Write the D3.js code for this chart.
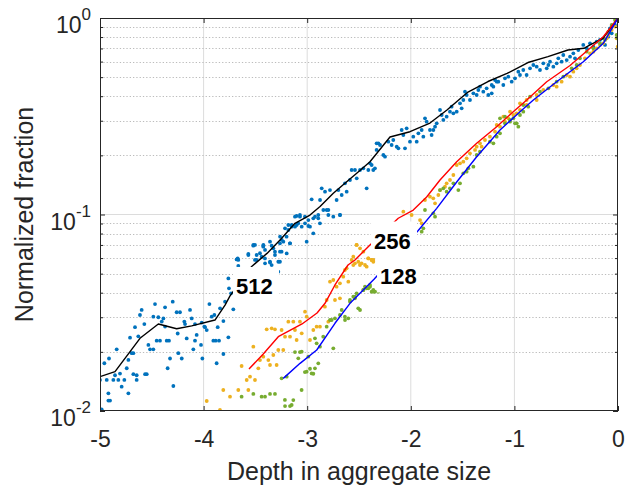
<!DOCTYPE html>
<html><head><meta charset="utf-8">
<script src="https://cdn.jsdelivr.net/npm/d3@7"></script>
<style>body{margin:0;background:#fff;} svg{display:block;font-family:"Liberation Sans",Arial,Helvetica,sans-serif;}</style>
</head><body><svg id="chart" width="640" height="487"></svg>
<script>
// ---------------- data ----------------
const xTicks = [-5, -4, -3, -2, -1, 0];
const xTickLabels = ["-5", "-4", "-3", "-2", "-1", "0"];
const yMajorTicks = [0.01, 0.1, 1];
const yTickExponents = ["-2", "-1", "0"];
const xTitle = "Depth in aggregate size";
const yTitle = "Normalized fraction";

const scatter512 = [
[-5.00,0.0144],[-4.958,0.0175],[-4.913,0.0185],[-4.839,0.0206],[-4.710,0.0236],[-4.614,0.0308],[-4.598,0.0327],[-4.572,0.0277],
[-4.485,0.0302],[-4.469,0.0350],[-4.437,0.0300],[-4.404,0.0285],[-4.388,0.0296],[-4.372,0.0337],[-4.298,0.0360],[-4.260,0.0318],
[-4.228,0.0318],[-4.131,0.0327],[-4.186,0.0285],[-4.179,0.0277],[-4.115,0.0296],[-4.083,0.0277],[-4.018,0.0282],[-3.986,0.0267],
[-3.944,0.0350],[-3.922,0.0302],[-3.896,0.0308],[-3.864,0.0267],[-3.841,0.0333],[-3.809,0.0287],[-3.793,0.0360],[-3.761,0.0473],
[-3.755,0.0421],[-3.735,0.0397],[-3.713,0.0329],[-4.935,0.0144],[-4.919,0.0123],[-4.919,0.0113],[-4.903,0.0113],[-4.984,0.0102],
[-4.871,0.0144],[-4.855,0.0152],[-4.823,0.0144],[-4.807,0.0155],[-4.791,0.0133],[-4.765,0.0144],[-4.742,0.0165],[-4.726,0.0123],
[-4.694,0.0197],[-4.678,0.0197],[-4.646,0.0152],[-4.646,0.0144],[-4.565,0.0154],[-4.549,0.0154],[-4.533,0.0217],[-4.517,0.0206],
[-4.485,0.0206],[-4.453,0.0228],[-4.421,0.0228],[-4.356,0.0228],[-4.334,0.0228],[-4.347,0.0165],[-4.324,0.0185],[-4.292,0.0134],
[-4.250,0.0248],[-4.244,0.0197],[-4.211,0.0185],[-4.163,0.0234],[-4.099,0.0206],[-4.083,0.0228],[-4.067,0.0244],[-4.025,0.0217],
[-4.012,0.0185],[-3.993,0.0269],[-3.970,0.0258],[-3.906,0.0228],[-3.883,0.0228],[-3.874,0.0175],[-3.851,0.0228],[-3.809,0.0195],
[-3.761,0.0237],[-4.662,0.0267],[-4.630,0.0240],[-4.726,0.0182],[-4.678,0.0154],[-4.372,0.0269],
[-3.671,0.0598],[-3.665,0.0547],[-3.568,0.0630],[-3.520,0.0700],[-3.488,0.0587],[-3.423,0.0700],[-3.407,0.0660],[-3.359,0.0569],
[-3.343,0.0553],[-3.327,0.0673],[-3.311,0.0622],[-3.279,0.0512],[-3.263,0.0647],[-3.263,0.0575],[-3.198,0.0634],[-3.230,0.0727],
[-3.005,0.0727],[-3.102,0.0983],[-3.070,0.0994],[-3.022,0.0975],[-2.989,0.0937],[-2.941,0.0956],[-2.893,0.0994],[-2.877,0.0902],
[-2.812,0.1054],[-2.796,0.0994],[-2.684,0.0994],[-3.150,0.0884],[-3.118,0.0867],[-3.086,0.0902],[-3.182,0.0834],[-3.199,0.0771],
[-3.166,0.0713],[-3.263,0.0713],[-3.247,0.0647],[-3.359,0.0727],[-3.424,0.0686],[-3.504,0.0700],[-3.488,0.0622],[-3.456,0.0635],
[-3.408,0.0598],[-3.359,0.0575],[-3.279,0.0575],[-3.665,0.0587],
[-3.681,0.0591],[-3.568,0.0622],[-3.520,0.0694],[-3.504,0.0587],[-3.440,0.0610],[-3.423,0.0694],[-3.407,0.0564],[-3.343,0.0694],
[-3.311,0.0647],[-3.262,0.0771],[-3.246,0.0742],[-3.214,0.0850],[-3.182,0.0884],[-3.166,0.0713],[-3.150,0.0867],[-3.118,0.0975],
[-3.102,0.0884],[-3.070,0.0975],[-3.053,0.0867],[-3.021,0.0902],[-2.989,0.0874],[-2.973,0.0867],[-2.941,0.0802],[-2.925,0.0975],
[-2.893,0.0956],[-2.957,0.1195],[-2.876,0.1185],[-2.860,0.1359],[-2.844,0.1054],[-2.828,0.1307],[-2.796,0.1054],[-2.780,0.1332],
[-2.748,0.0975],[-2.716,0.1185],[-2.699,0.1332],[-2.683,0.0994],[-2.667,0.1257],[-2.635,0.1441],[-2.619,0.1307],[-2.587,0.1498],
[-2.571,0.1684],[-2.539,0.1684],[-2.522,0.1528],[-2.490,0.1684],[-2.458,0.1718],[-2.426,0.1359],[-2.410,0.1684],[-2.378,0.1786],
[-2.362,0.1684],[-2.346,0.1718],[-2.330,0.2130],[-2.313,0.2303],
[-2.394,0.1822],[-2.330,0.2303],[-2.297,0.2258],[-2.265,0.2008],[-2.249,0.1969],[-2.217,0.2348],[-2.185,0.2258],[-2.169,0.2394],
[-2.136,0.2214],[-2.120,0.2171],[-2.088,0.2692],[-2.072,0.2539],[-2.056,0.2171],[-2.040,0.2745],[-2.008,0.2348],[-1.976,0.2489],
[-1.943,0.2348],[-1.927,0.2588],[-1.895,0.2692],[-1.879,0.2489],[-1.863,0.3085],[-1.847,0.2969],[-1.815,0.2692],[-1.799,0.2539],
[-1.782,0.2692],[-1.766,0.2799],[-1.750,0.2910],[-1.718,0.3402],[-1.702,0.3209],[-1.686,0.3028],[-1.654,0.3147],[-1.622,0.3336],
[-1.606,0.3537],[-1.589,0.3271],[-1.557,0.3336],[-1.525,0.3678],[-1.509,0.3470],[-1.493,0.3825],[-1.477,0.4218],[-1.461,0.4057],
[-1.429,0.3825],[-1.396,0.4136],[-1.364,0.4057],[-1.348,0.4300],[-1.332,0.4472],[-1.300,0.4218],[-1.268,0.4385],[-1.252,0.4057],
[-1.219,0.4560],[-1.203,0.4472],[-1.171,0.4742],
[-1.219,0.4136],[-1.187,0.4836],[-1.155,0.4742],[-1.107,0.4560],[-1.091,0.4932],[-1.059,0.5028],[-1.026,0.4742],[-0.994,0.4932],
[-0.962,0.5332],[-0.946,0.5128],[-0.914,0.5437],[-0.882,0.5128],[-0.849,0.5544],[-0.817,0.5765],[-0.785,0.5654],[-0.753,0.5437],
[-0.721,0.5879],[-0.688,0.5544],[-0.672,0.5765],[-0.656,0.5995],[-0.624,0.5654],[-0.592,0.5879],[-0.576,0.6233],[-0.544,0.5995],
[-0.528,0.6482],[-0.495,0.6111],[-0.463,0.6357],[-0.431,0.6610],[-0.415,0.6233],[-0.383,0.6873],[-0.335,0.7291],[-0.302,0.7010],
[-0.270,0.7434],[-0.238,0.7148],[-0.206,0.7580],[-0.174,0.7730],[-0.142,0.7883],[-0.125,0.7291],[-0.093,0.8035],[-0.077,0.8857],
[-0.061,0.8355],[-0.029,0.9213]
];

const scatter256 = [
[-3.970,0.01124],[-3.842,0.01012],[-3.810,0.01279],[-3.745,0.01183],[-3.665,0.01279],[-3.633,0.01694],[-3.584,0.01438],[-3.568,0.01279],
[-3.552,0.01495],[-3.520,0.02126],[-3.504,0.01438],[-3.472,0.01649],[-3.456,0.01817],[-3.424,0.01890],[-3.391,0.02603],[-3.375,0.01817],
[-3.359,0.01714],[-3.343,0.02634],[-3.327,0.01928],[-3.311,0.02603],[-3.295,0.01714],[-3.279,0.02044],[-3.247,0.02583],[-3.231,0.02044],
[-3.214,0.02389],[-3.182,0.02849],[-3.166,0.02389],[-3.134,0.02849],[-3.118,0.02583],[-3.102,0.02298],[-3.070,0.02849],[-3.053,0.02484],
[-3.021,0.03201],[-3.005,0.03020],[-2.973,0.02298],[-2.941,0.02583],[-2.909,0.02686],
[-2.877,0.02686],[-2.829,0.03396],[-2.812,0.03671],[-2.796,0.02849],[-2.780,0.04552],[-2.748,0.04642],[-2.732,0.03671],[-2.716,0.04293],
[-2.684,0.04464],[-2.684,0.03744],[-2.652,0.04826],[-2.636,0.05220],[-2.619,0.05321],[-2.603,0.04552],[-2.571,0.05868],[-2.555,0.06101],
[-2.539,0.05643],[-2.523,0.06997],[-2.491,0.05534],[-2.475,0.05643],[-2.442,0.05534],[-2.426,0.05428],[-2.410,0.05981],[-2.378,0.05868],
[-2.362,0.05868],[-2.523,0.0700],[-2.490,0.0673],[-2.458,0.0647],[-2.410,0.0598],[-2.378,0.0587],[-2.362,0.0575],[-2.555,0.0553],[-2.507,0.0575],
[-2.072,0.1034],[-1.992,0.0994],[-1.911,0.0937],[-1.895,0.0902],[-1.863,0.1185],[-1.815,0.1232],[-1.783,0.1209],[-1.766,0.1140],
[-1.734,0.1257],[-1.718,0.1332],[-1.670,0.1385],[-1.654,0.1441],[-1.622,0.1498],[-1.589,0.1589],[-1.557,0.1786],[-1.525,0.1822],
[-1.493,0.1857],[-1.461,0.1931],[-1.429,0.2048],[-1.380,0.2130],[-1.364,0.2214],[-1.332,0.2303],[-1.316,0.2214],[-1.284,0.2394],
[-1.236,0.2489],[-1.187,0.2639],[-1.139,0.2799],[-1.091,0.2969],[-1.059,0.3085],[-1.010,0.3208],[-0.978,0.3271],[-0.946,0.3402],
[-0.882,0.3608],[-0.785,0.3825],
[-1.171,0.2854],[-1.107,0.3147],[-1.042,0.3336],[-0.946,0.3678],[-0.882,0.3825],[-0.785,0.4057],[-0.721,0.4300],[-0.624,0.4560],
[-0.592,0.4472],[-0.544,0.4742],[-0.495,0.5129],[-0.463,0.5028],[-0.431,0.5332],[-0.399,0.5545],[-0.367,0.5765],[-0.319,0.6233],
[-0.270,0.6610],[-0.238,0.6741],[-0.206,0.7010],[-0.174,0.7291],[-0.142,0.7434],[-0.109,0.7882],[-0.093,0.8194],[-0.061,0.8689],
[-0.029,0.9035],[-0.003,0.7148],[-0.013,0.7882]
];

const scatter128 = [
[-3.633,0.01183],[-3.520,0.01221],[-3.440,0.01183],[-3.407,0.01183],[-3.359,0.01221],[-3.311,0.01221],[-3.247,0.01466],[-3.214,0.01060],
[-3.198,0.01495],[-3.166,0.01060],[-3.134,0.01137],[-3.086,0.01853],[-3.053,0.02004],[-3.005,0.01585],[-2.957,0.01554],[-2.925,0.01649],
[-2.893,0.01748],[-3.118,0.01995],[-3.070,0.01995],[-3.022,0.01578],[-2.973,0.01641],[-2.941,0.01547],[-2.989,0.01890],[-2.909,0.02210],
[-2.925,0.02343],[-3.054,0.01279],[-3.150,0.01073],[-3.215,0.01138],
[-2.877,0.02126],[-2.845,0.02389],[-2.812,0.02686],[-2.780,0.02904],[-2.732,0.02961],[-2.684,0.03080],[-2.636,0.03020],[-2.603,0.02961],
[-2.587,0.03600],[-2.555,0.03818],[-2.523,0.03970],[-2.507,0.03331],[-2.458,0.04128],[-2.426,0.04210],[-2.394,0.04378],[-2.362,0.04048],
[-2.764,0.02904],[-2.748,0.02084],[-2.667,0.03266],[-2.635,0.02904],[-2.587,0.03671],[-2.539,0.03744],[-2.490,0.03266],[-2.458,0.04128],
[-2.394,0.04293],[-2.346,0.04048],[-2.313,0.04048],
[-2.442,0.0429],[-2.410,0.0421],[-2.378,0.0405],[-2.362,0.0413],[-2.539,0.0382],
[-1.895,0.0818],[-1.879,0.0850],[-1.863,0.1054],[-1.783,0.1014],[-1.766,0.0975],[-1.718,0.1332],[-1.686,0.1359],[-1.654,0.1307],
[-1.622,0.1359],[-1.589,0.1441],[-1.541,0.1332],[-1.525,0.1441],[-1.493,0.1620],[-1.461,0.1652],[-1.445,0.1718],[-1.396,0.1751],
[-1.364,0.2008],[-1.332,0.2088],[-1.236,0.2348],[-1.203,0.2303],[-1.171,0.2489],[-1.139,0.2588],[-1.091,0.2911],[-1.043,0.3028],
[-1.010,0.3085],[-0.978,0.2911],[-0.962,0.2799],[-0.946,0.3208],[-0.914,0.3336],[-0.866,0.3537],
[-1.139,0.3085],[-1.091,0.3147],[-1.042,0.2969],[-0.994,0.2911],[-0.914,0.3608],[-0.849,0.3978],[-0.753,0.4218],[-0.672,0.4386],
[-0.592,0.4742],[-0.528,0.5028],[-0.447,0.5545],[-0.399,0.5765],[-0.367,0.6233],[-0.302,0.6741],[-0.238,0.7010],[-0.174,0.7434],
[-0.125,0.7730],[-0.093,0.8520],[-0.061,0.9213],[-0.029,0.9768],[-0.013,0.8194],[-0.003,0.7882]
];

const line512 = [
[-5,0.01496],[-4.855,0.01585],[-4.614,0.02344],[-4.437,0.02773],[-4.260,0.02622],[-4.115,0.0271],[-3.890,0.02904],[-3.793,0.0346],
[-3.745,0.0385],[-3.536,0.0544],[-3.388,0.0634],[-3.253,0.0750],[-3.118,0.0902],[-2.973,0.0994],[-2.876,0.1098],[-2.748,0.1282],
[-2.619,0.1469],[-2.522,0.1621],[-2.394,0.1856],[-2.201,0.2479],[-2.008,0.2638],[-1.815,0.2921],[-1.651,0.3402],[-1.448,0.4201],
[-1.255,0.4751],[-1.071,0.5220],[-0.869,0.5935],[-0.676,0.6355],[-0.483,0.6873],[-0.328,0.7011],[-0.270,0.7290],[-0.145,0.7883],[0,1.0]
];
const line256 = [
[-3.562,0.01636],[-3.424,0.01950],[-3.279,0.02388],[-3.050,0.02772],[-2.905,0.03152],[-2.828,0.03532],[-2.732,0.04378],[-2.606,0.05534],
[-2.539,0.05867],[-2.394,0.06995],[-2.121,0.0957],[-1.976,0.1054],[-1.847,0.1228],[-1.718,0.1498],[-1.557,0.1856],[-1.364,0.2303],
[-1.171,0.2798],[-1.011,0.3335],[-0.881,0.3825],[-0.688,0.4740],[-0.463,0.5731],[-0.270,0.7011],[-0.142,0.8032],[0,1.0]
];
const line128 = [
[-3.231,0.01466],[-3.069,0.01748],[-2.908,0.02044],[-2.732,0.02795],[-2.587,0.03532],[-2.355,0.04680],[-1.928,0.0829],[-1.750,0.1075],
[-1.557,0.1463],[-1.364,0.1968],[-1.139,0.2692],[-0.946,0.3335],[-0.817,0.3825],[-0.592,0.4740],[-0.335,0.5992],[-0.142,0.7435],[0,1.0]
];

const labels = [
  {text: "512", x: -3.716, y: 0.0438},
  {text: "256", x: -2.384, y: 0.0746},
  {text: "128", x: -2.326, y: 0.0495}
];

// ---------------- drawing ----------------
const W = 640, H = 487;
const M = {left: 100, right: 22, top: 18, bottom: 76};
const svg = d3.select("#chart");
const x = d3.scaleLinear().domain([-5, 0]).range([M.left, W - M.right]);
const y = d3.scaleLog().domain([0.01, 1]).range([H - M.bottom, M.top]);
const axisColor = "#262626";
const allYTicks = y.ticks();
const minorY = allYTicks.filter(t => !yMajorTicks.some(m => Math.abs(m - t) / m < 1e-6));

svg.append("defs").append("clipPath").attr("id", "clip")
  .append("rect").attr("x", M.left).attr("y", M.top)
  .attr("width", W - M.left - M.right).attr("height", H - M.top - M.bottom);

// grid
const grid = svg.append("g");
grid.selectAll("line.vg").data(xTicks.slice(1, -1)).enter().append("line")
  .attr("x1", d => x(d)).attr("x2", d => x(d)).attr("y1", M.top).attr("y2", H - M.bottom)
  .attr("stroke", "#dcdcdc").attr("stroke-width", 1);
grid.selectAll("line.hg").data(yMajorTicks.slice(1, -1)).enter().append("line")
  .attr("y1", d => y(d)).attr("y2", d => y(d)).attr("x1", M.left).attr("x2", W - M.right)
  .attr("stroke", "#dcdcdc").attr("stroke-width", 1);
grid.selectAll("line.mg").data(minorY).enter().append("line")
  .attr("y1", d => Math.round(y(d)) + 0.5).attr("y2", d => Math.round(y(d)) + 0.5).attr("x1", M.left).attr("x2", W - M.right)
  .attr("stroke", "#bcbcbc").attr("stroke-width", 1).attr("stroke-dasharray", "1.3,2");

// data
const plot = svg.append("g").attr("clip-path", "url(#clip)");
function dots(data, color) {
  plot.append("g").selectAll("circle").data(data).enter().append("circle")
    .attr("cx", d => x(d[0])).attr("cy", d => y(d[1])).attr("r", 1.9).attr("fill", color);
}
dots(scatter512, "#0072BD");
dots(scatter256, "#EDB120");
dots(scatter128, "#77AC30");
const lineGen = d3.line().x(d => x(d[0])).y(d => y(d[1]));
function drawLine(data, color) {
  plot.append("path").datum(data).attr("d", lineGen).attr("fill", "none")
    .attr("stroke", color).attr("stroke-width", 1.4).attr("stroke-linejoin", "round");
}
drawLine(line512, "#000000");
drawLine(line256, "#ff0000");
drawLine(line128, "#0000ff");

// text labels with white background
const lab = svg.append("g");
labels.forEach(l => {
  const px = x(l.x), py = y(l.y);
  lab.append("rect").attr("x", px).attr("y", py - 18).attr("width", 46).attr("height", 36).attr("fill", "#fff");
  lab.append("text").attr("x", px + 3).attr("y", py + 9).text(l.text)
    .attr("font-size", 22).attr("font-weight", "bold").attr("fill", "#000");
});

// axes
function styleAxis(g) {
  g.select(".domain").remove();
  g.selectAll(".tick line").attr("stroke", axisColor);
  g.selectAll(".tick text").attr("fill", axisColor);
}
svg.append("g").attr("transform", `translate(0,${H - M.bottom})`)
  .call(d3.axisBottom(x).tickValues(xTicks).tickSize(-5).tickPadding(20).tickFormat((d, i) => xTickLabels[i]))
  .call(styleAxis)
  .selectAll("text").attr("font-size", 23).attr("font-family", "Liberation Sans, Arial, sans-serif");
svg.append("g").attr("transform", `translate(0,${M.top})`)
  .call(d3.axisTop(x).tickValues(xTicks).tickSize(-5).tickFormat(""))
  .call(styleAxis);
svg.append("g").attr("transform", `translate(${M.left},0)`)
  .call(d3.axisLeft(y).tickValues(yMajorTicks).tickSize(-5).tickFormat(""))
  .call(styleAxis);
svg.append("g").attr("transform", `translate(${M.left},0)`)
  .call(d3.axisLeft(y).tickValues(minorY).tickSize(-3).tickFormat(""))
  .call(styleAxis);
svg.append("g").attr("transform", `translate(${W - M.right},0)`)
  .call(d3.axisRight(y).tickValues(yMajorTicks).tickSize(-5).tickFormat(""))
  .call(styleAxis);
svg.append("g").attr("transform", `translate(${W - M.right},0)`)
  .call(d3.axisRight(y).tickValues(minorY).tickSize(-3).tickFormat(""))
  .call(styleAxis);

// box
svg.append("rect").attr("x", M.left + 0.5).attr("y", M.top + 0.5)
  .attr("width", W - M.left - M.right - 1).attr("height", H - M.top - M.bottom - 1)
  .attr("fill", "none").attr("stroke", axisColor).attr("stroke-width", 1);

// y tick labels 10^n
yMajorTicks.forEach((t, i) => {
  const tx = svg.append("text").attr("x", 91).attr("y", y(t) + 15)
    .attr("text-anchor", "end").attr("fill", axisColor).attr("font-size", 23);
  tx.append("tspan").text("10");
  tx.append("tspan").attr("dy", -13).attr("font-size", 17).text(yTickExponents[i]);
});

// titles
svg.append("text").attr("x", (M.left + W - M.right) / 2).attr("y", 480)
  .attr("text-anchor", "middle").attr("font-size", 25).attr("fill", axisColor).text(xTitle);
svg.append("text").attr("transform", `translate(33,${(M.top + H - M.bottom) / 2}) rotate(-90)`)
  .attr("text-anchor", "middle").attr("font-size", 25).attr("fill", axisColor).text(yTitle);
</script></body></html>
